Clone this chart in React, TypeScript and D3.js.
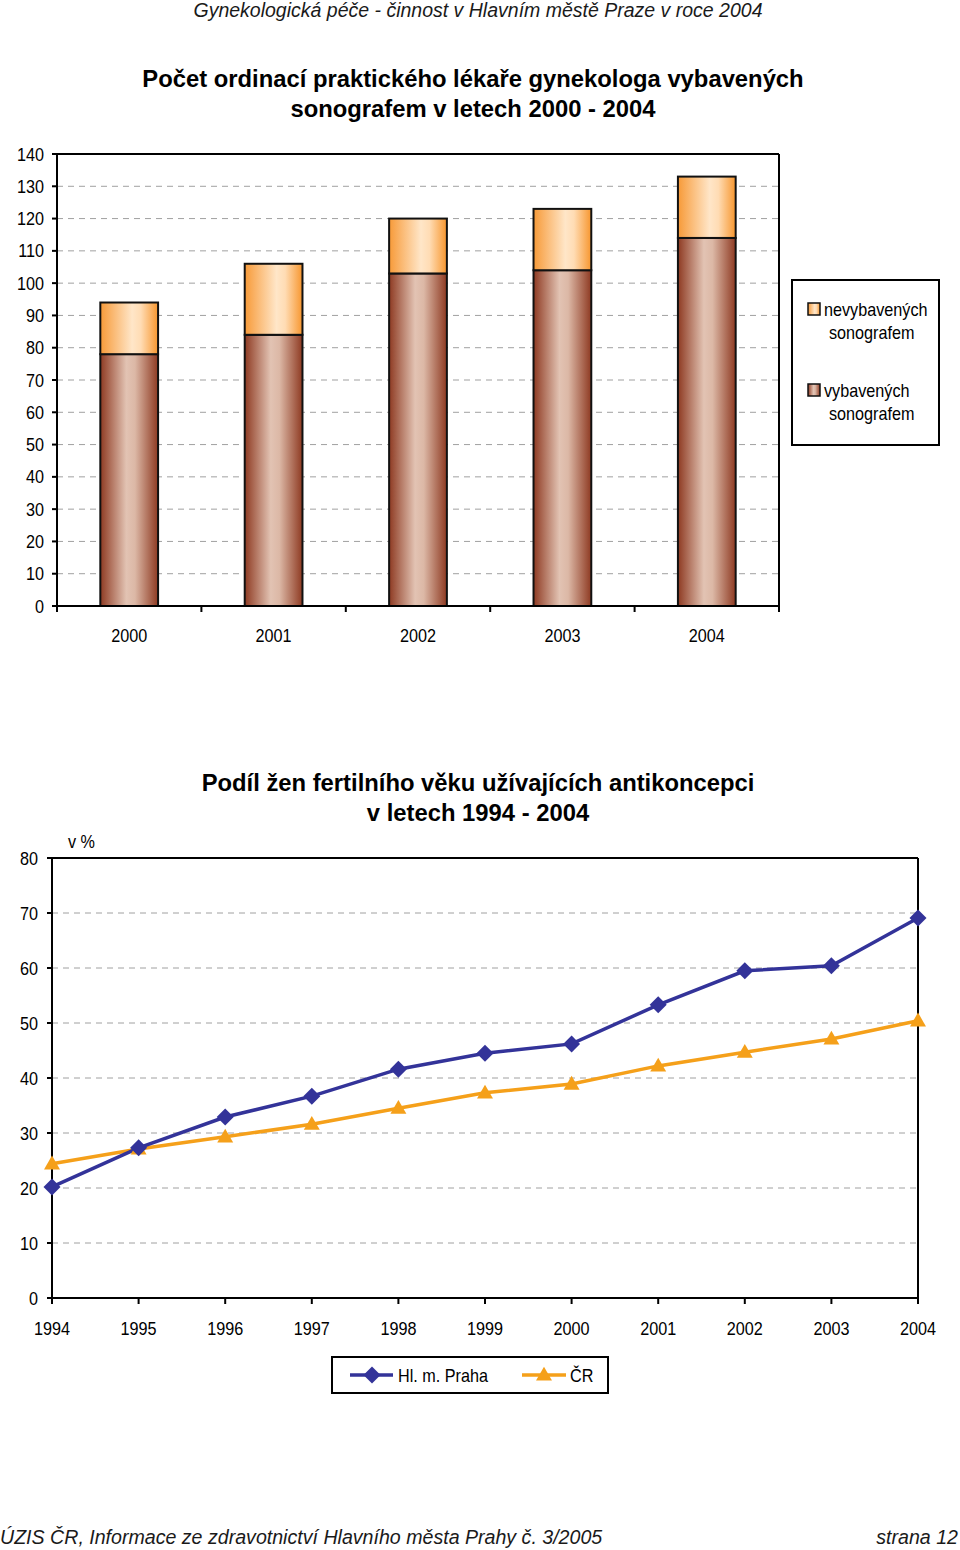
import React from "react";
import * as d3 from "d3";

const barYears = ["2000", "2001", "2002", "2003", "2004"];
const equipped = [78, 84, 103, 104, 114];
const notEquipped = [16, 22, 17, 19, 19];
const barTicks = [0, 10, 20, 30, 40, 50, 60, 70, 80, 90, 100, 110, 120, 130, 140];

const lineYears = ["1994", "1995", "1996", "1997", "1998", "1999", "2000", "2001", "2002", "2003", "2004"];
const praha = [20.2, 27.3, 32.9, 36.7, 41.6, 44.5, 46.2, 53.3, 59.5, 60.4, 69.1];
const cr = [24.4, 27.1, 29.3, 31.6, 34.5, 37.3, 38.9, 42.2, 44.7, 47.1, 50.4];
const lineTicks = [0, 10, 20, 30, 40, 50, 60, 70, 80];

const FONT = "'Liberation Sans', Arial, sans-serif";

function NT({ x, y, anchor = "start", children }: { x: number; y: number; anchor?: string; children: React.ReactNode }) {
  return (
    <text transform={`translate(${x},${y}) scale(0.9,1)`} textAnchor={anchor as any} fontFamily={FONT} fontSize={18} fill="#000">
      {children}
    </text>
  );
}

export default function App() {
  const bx0 = 57, bx1 = 779, by0 = 606, by1 = 154;
  const xb = d3.scaleBand().domain(barYears).range([bx0, bx1]).paddingInner(0.6).paddingOuter(0.3);
  const xbFull = d3.scaleBand().domain(barYears).range([bx0, bx1]);
  const yb = d3.scaleLinear().domain([0, 140]).range([by0, by1]);

  const lx0 = 52, lx1 = 918, ly0 = 1298, ly1 = 858;
  const xl = d3.scalePoint().domain(lineYears).range([lx0, lx1]);
  const yl = d3.scaleLinear().domain([0, 80]).range([ly0, ly1]);
  const line = d3.line<number>().x((_, i) => xl(lineYears[i])!).y((d) => yl(d));
  const tri = d3.symbol().type(d3.symbolTriangle).size(110)()!;

  return (
    <svg width={960} height={1550} style={{ position: "absolute", left: 0, top: 0, background: "#fff" }}>
      <defs>
        <linearGradient id="gEq" x1="0" x2="1" y1="0" y2="0">
          <stop offset="0" stopColor="#8e3a22" />
          <stop offset="0.45" stopColor="#e2c3b3" />
          <stop offset="0.6" stopColor="#dcb8a6" />
          <stop offset="1" stopColor="#8e3a22" />
        </linearGradient>
        <linearGradient id="gNo" x1="0" x2="1" y1="0" y2="0">
          <stop offset="0" stopColor="#f79a38" />
          <stop offset="0.55" stopColor="#ffe6c8" />
          <stop offset="0.7" stopColor="#ffdcb4" />
          <stop offset="1" stopColor="#f7962e" />
        </linearGradient>
      </defs>

      <text x={478} y={17} textAnchor="middle" fontFamily={FONT} fontStyle="italic" fontSize={19.5} fill="#1a1a1a">
        Gynekologická péče - činnost v Hlavním městě Praze v roce 2004
      </text>

      <text textAnchor="middle" fontFamily={FONT} fontWeight="bold" fontSize={23.8} fill="#000">
        <tspan x={473} y={87}>Počet ordinací praktického lékaře gynekologa vybavených</tspan>
        <tspan x={473} y={117}>sonografem v letech 2000 - 2004</tspan>
      </text>

      {barTicks.filter((t) => t > 0 && t < 140).map((t) => (
        <line key={t} x1={bx0} x2={bx1} y1={yb(t)} y2={yb(t)} stroke="#a0a0a0" strokeDasharray="6,5" strokeWidth={1} />
      ))}
      {barYears.map((yr, i) => {
        const x = xb(yr)!;
        const w = xb.bandwidth();
        return (
          <g key={yr}>
            <rect x={x} y={yb(equipped[i])} width={w} height={yb(0) - yb(equipped[i])} fill="url(#gEq)" stroke="#111" strokeWidth={2} />
            <rect x={x} y={yb(equipped[i] + notEquipped[i])} width={w} height={yb(equipped[i]) - yb(equipped[i] + notEquipped[i])} fill="url(#gNo)" stroke="#111" strokeWidth={2} />
          </g>
        );
      })}
      <line x1={bx0} x2={bx1} y1={by1} y2={by1} stroke="#000" strokeWidth={2} />
      <line x1={bx1} x2={bx1} y1={by1} y2={by0} stroke="#000" strokeWidth={2} />
      <line x1={bx0} x2={bx0} y1={by1} y2={by0} stroke="#000" strokeWidth={2} />
      <line x1={bx0} x2={bx1} y1={by0} y2={by0} stroke="#000" strokeWidth={2} />
      {barTicks.map((t) => (
        <g key={t}>
          <line x1={bx0 - 5} x2={bx0} y1={yb(t)} y2={yb(t)} stroke="#000" strokeWidth={2} />
          <NT x={bx0 - 13} y={yb(t) + 6.5} anchor="end">{t}</NT>
        </g>
      ))}
      {[...barYears.map((y) => xbFull(y)!), bx1].map((x, i) => (
        <line key={i} x1={x} x2={x} y1={by0} y2={by0 + 6} stroke="#000" strokeWidth={2} />
      ))}
      {barYears.map((yr) => (
        <NT key={yr} x={xbFull(yr)! + xbFull.bandwidth() / 2} y={642} anchor="middle">{yr}</NT>
      ))}

      <rect x={792} y={280} width={147} height={165} fill="#fff" stroke="#000" strokeWidth={2} />
      <rect x={808} y={303} width={12} height={12} fill="url(#gNo)" stroke="#111" strokeWidth={1.5} />
      <NT x={824} y={316}>nevybavených</NT>
      <NT x={829} y={339}>sonografem</NT>
      <rect x={808} y={384} width={12} height={12} fill="url(#gEq)" stroke="#111" strokeWidth={1.5} />
      <NT x={824} y={397}>vybavených</NT>
      <NT x={829} y={420}>sonografem</NT>

      <text textAnchor="middle" fontFamily={FONT} fontWeight="bold" fontSize={23.8} fill="#000">
        <tspan x={478} y={791}>Podíl žen fertilního věku užívajících antikoncepci</tspan>
        <tspan x={478} y={821}>v letech 1994 - 2004</tspan>
      </text>
      <NT x={68} y={848}>v %</NT>

      {lineTicks.filter((t) => t > 0 && t < 80).map((t) => (
        <line key={t} x1={lx0} x2={lx1} y1={yl(t)} y2={yl(t)} stroke="#a0a0a0" strokeDasharray="6,5" strokeWidth={1} />
      ))}
      <line x1={lx0} x2={lx1} y1={ly1} y2={ly1} stroke="#000" strokeWidth={2} />
      <line x1={lx1} x2={lx1} y1={ly1} y2={ly0} stroke="#000" strokeWidth={2} />
      <line x1={lx0} x2={lx0} y1={ly1} y2={ly0} stroke="#000" strokeWidth={2} />
      <line x1={lx0} x2={lx1} y1={ly0} y2={ly0} stroke="#000" strokeWidth={2} />
      {lineTicks.map((t) => (
        <g key={t}>
          <line x1={lx0 - 5} x2={lx0} y1={yl(t)} y2={yl(t)} stroke="#000" strokeWidth={2} />
          <NT x={lx0 - 14} y={yl(t) + 6.5} anchor="end">{t}</NT>
        </g>
      ))}
      {lineYears.map((yr) => (
        <g key={yr}>
          <line x1={xl(yr)!} x2={xl(yr)!} y1={ly0} y2={ly0 + 6} stroke="#000" strokeWidth={2} />
          <NT x={xl(yr)!} y={1335} anchor="middle">{yr}</NT>
        </g>
      ))}

      <path d={line(cr)!} fill="none" stroke="#f5a01a" strokeWidth={3.5} />
      <path d={line(praha)!} fill="none" stroke="#333399" strokeWidth={3.5} />
      {cr.map((v, i) => (
        <path key={i} d={tri} transform={`translate(${xl(lineYears[i])},${yl(v) + 1})`} fill="#f5a01a" />
      ))}
      {praha.map((v, i) => (
        <rect key={i} x={-6} y={-6} width={12} height={12} fill="#333399" transform={`translate(${xl(lineYears[i])},${yl(v)}) rotate(45)`} />
      ))}

      <rect x={332} y={1357} width={276} height={36} fill="#fff" stroke="#000" strokeWidth={2} />
      <line x1={350} x2={393} y1={1375} y2={1375} stroke="#333399" strokeWidth={3.5} />
      <rect x={-6} y={-6} width={12} height={12} fill="#333399" transform="translate(372,1375) rotate(45)" />
      <NT x={398} y={1382}>Hl. m. Praha</NT>
      <line x1={522} x2={566} y1={1375} y2={1375} stroke="#f5a01a" strokeWidth={3.5} />
      <path d={tri} transform="translate(544,1376)" fill="#f5a01a" />
      <NT x={570} y={1382}>ČR</NT>

      <text x={0} y={1544} fontFamily={FONT} fontStyle="italic" fontSize={19.6} fill="#1a1a1a">
        ÚZIS ČR, Informace ze zdravotnictví Hlavního města Prahy č. 3/2005
      </text>
      <text x={958} y={1544} textAnchor="end" fontFamily={FONT} fontStyle="italic" fontSize={19.6} fill="#1a1a1a">
        strana 12
      </text>
    </svg>
  );
}
